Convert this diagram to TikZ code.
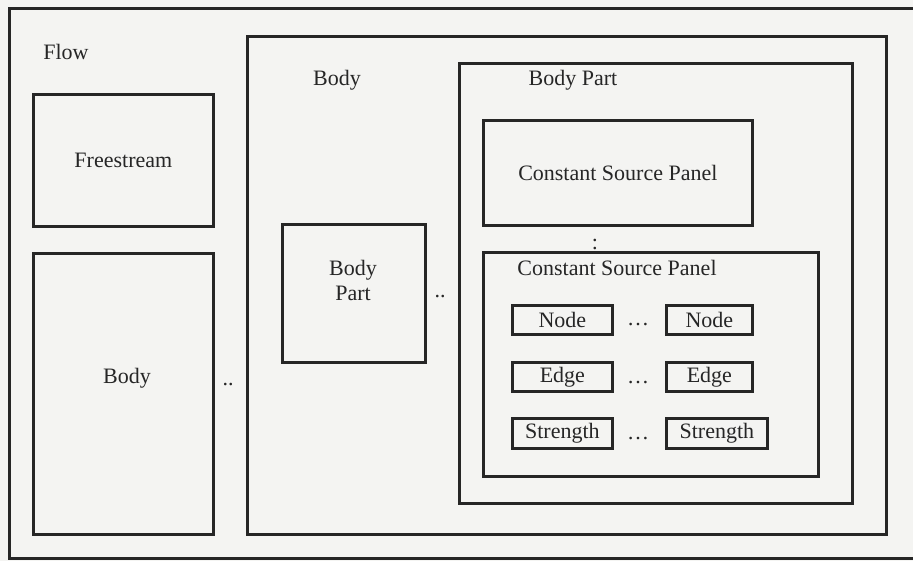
\documentclass[tikz,border=0pt]{standalone}
\usepackage{fontspec}
\setmainfont{Liberation Serif}
\definecolor{ink}{HTML}{262626}
\definecolor{paper}{HTML}{F4F4F2}
\begin{document}
\begin{tikzpicture}[x=1pt,y=-1pt,
  box/.style={draw=ink, line width=2.7pt, inner sep=0pt, anchor=north west},
  lbl/.style={text=ink, font=\fontsize{22}{25}\selectfont, inner sep=0pt},
  small/.style={box}]
\fill[paper] (0,0) rectangle (913,561);
\useasboundingbox (0,0) rectangle (913,561);
% outer flow box
\node[box, minimum width=940pt, minimum height=550pt] (flow) at (8,7) {};
\node[lbl] (flowlbl) at (66,52) {Flow};
% freestream
\node[box, minimum width=180pt, minimum height=132pt] (free) at (32,93) {};
\node[lbl] at (free.center) {Freestream};
% body left
\node[box, minimum width=180pt, minimum height=281pt] (bodyL) at (32,252) {};
\node[lbl] at (127,378) {Body};
\node[lbl, anchor=base] (dots1) at (228,385) {..};
% body middle
\node[box, minimum width=639pt, minimum height=498pt] (bodyM) at (246,35) {};
\node[lbl] at (337,80) {Body};
% small body part
\node[box, minimum width=143pt, minimum height=138pt] (bp) at (281,223) {};
\node[lbl, align=center] at (353,280) {Body\\Part};
\node[lbl, anchor=base] (dots2) at (440,298) {..};
% body part box
\node[box, minimum width=393pt, minimum height=440pt] (bpart) at (458,62) {};
\node[lbl] at (573,80) {Body Part};
% constant source panel 1
\node[box, minimum width=269pt, minimum height=105pt] (csp1) at (482,119) {};
\node[lbl] at (csp1.center) {Constant Source Panel};
\node[lbl, anchor=base] (vdots) at (595,250) {:};
% constant source panel 2
\node[box, minimum width=335pt, minimum height=224pt] (csp2) at (482,251) {};
\node[lbl] at (617,268) {Constant Source Panel};
% inner items
\node[small, minimum width=100pt, minimum height=29pt] (n1) at (511,304) {};
\node[lbl] at (n1.center) {Node};
\node[small, minimum width=86pt, minimum height=29pt] (n2) at (665,304) {};
\node[lbl] at (n2.center) {Node};
\node[small, minimum width=100pt, minimum height=29pt] (e1) at (511,361) {};
\node[lbl] at (e1.center) {Edge};
\node[small, minimum width=86pt, minimum height=29pt] (e2) at (665,361) {};
\node[lbl] at (e2.center) {Edge};
\node[small, minimum width=100pt, minimum height=30pt] (s1) at (511,417) {};
\node[lbl] at (s1.center) {Strength};
\node[small, minimum width=101pt, minimum height=30pt] (s2) at (665,417) {};
\node[lbl] at (s2.center) {Strength};
\node[lbl, anchor=base] (el1) at (638,326) {…};
\node[lbl, anchor=base] (el2) at (638,383) {…};
\node[lbl, anchor=base] (el3) at (638,439) {…};
\end{tikzpicture}
\end{document}
